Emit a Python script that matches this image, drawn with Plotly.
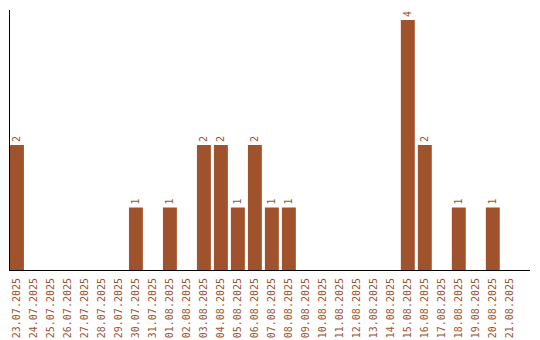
import plotly.graph_objects as go

dates = ["23.07.2025","24.07.2025","25.07.2025","26.07.2025","27.07.2025","28.07.2025",
         "29.07.2025","30.07.2025","31.07.2025","01.08.2025","02.08.2025","03.08.2025",
         "04.08.2025","05.08.2025","06.08.2025","07.08.2025","08.08.2025","09.08.2025",
         "10.08.2025","11.08.2025","12.08.2025","13.08.2025","14.08.2025","15.08.2025",
         "16.08.2025","17.08.2025","18.08.2025","19.08.2025","20.08.2025","21.08.2025"]
counts = [2,0,0,0,0,0,0,1,0,1,0,2,2,1,2,1,1,0,0,0,0,0,0,4,2,0,1,0,1,0]

color = "#A0522D"
labels = [str(c) if c > 0 else "" for c in counts]

fig = go.Figure(go.Bar(
    x=dates, y=counts, marker_color=color, marker_line_width=0,
    text=labels, textposition="outside", textangle=-90,
    textfont=dict(family="DejaVu Sans Mono", size=10, color=color),
    cliponaxis=False,
))
fig.update_layout(
    width=540, height=340,
    margin=dict(l=10, r=10, t=10, b=70, autoexpand=False),
    paper_bgcolor="white", plot_bgcolor="white",
    bargap=0.18, showlegend=False,
    xaxis=dict(type="category", tickangle=-90, showgrid=False, showline=True,
               linecolor="black", linewidth=1, ticks="", automargin=False,
               range=[-0.41, 30.19], ticklabelstandoff=3,
               tickfont=dict(family="DejaVu Sans Mono", size=10, color=color)),
    yaxis=dict(range=[0, 4.16], showgrid=False, showline=True, linecolor="black",
               linewidth=1, showticklabels=False, ticks="", zeroline=False,
               automargin=False),
)
fig.write_html("out.html")
